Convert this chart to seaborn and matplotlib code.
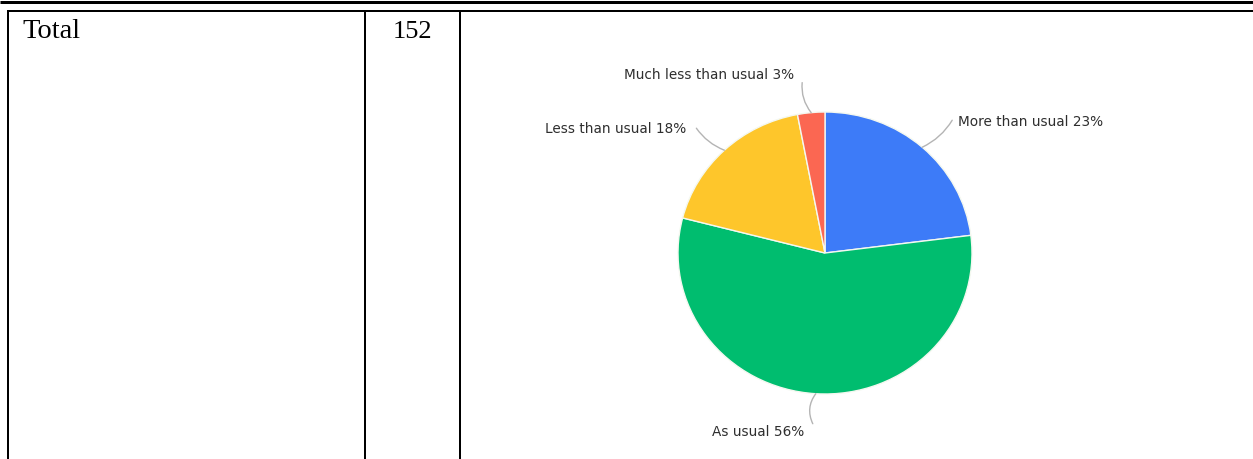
import numpy as np
import matplotlib
matplotlib.use("Agg")
import matplotlib.pyplot as plt
import seaborn as sns

# ---- data ----
categories = ["More than usual", "As usual", "Less than usual", "Much less than usual"]
percentages = [23, 56, 18, 3]
row_label = "Total"
row_count = "152"
slice_colors = ["#3D7BF8", "#00BD6F", "#FEC62B", "#FB6752"]

sns.set_theme(style="white")
plt.rcParams["font.family"] = ["DejaVu Sans"]

W, H = 1253, 459
fig = plt.figure(figsize=(W / 100, H / 100), dpi=100)
fig.patch.set_facecolor("white")

# ---- table frame (pixel coordinates axes) ----
tab = fig.add_axes([0, 0, 1, 1])
tab.set_xlim(0, W)
tab.set_ylim(H, 0)
tab.axis("off")
lw2 = 2 * 72 / 100
tab.plot([0, W], [1.5, 1.5], color="black", lw=3 * 72 / 100, solid_capstyle="butt")
tab.plot([7, W], [10.6, 10.6], color="black", lw=lw2, solid_capstyle="butt")
for xv in (8, 365, 460):
    tab.plot([xv, xv], [10, H], color="black", lw=lw2, solid_capstyle="butt")
tab.text(22, 38, row_label, family="Liberation Serif", fontsize=20.5,
         ha="left", va="baseline", color="black")
tab.text(432, 38, row_count, family="Liberation Serif", fontsize=19,
         ha="right", va="baseline", color="black")

# ---- pie (slightly wider than tall, as in the reference) ----
cx, cy, RX, RY = 825, 253, 147, 141
ax = fig.add_axes([0, 0, 1, 1])
ax.patch.set_alpha(0)
wedges, _ = ax.pie(percentages, colors=sns.color_palette(slice_colors),
                   startangle=90, counterclock=False, radius=1.0,
                   wedgeprops=dict(edgecolor="#F4F8F0", linewidth=1.0))
ax.set_aspect("auto")
ax.set_xlim(-cx / RX, (W - cx) / RX)
ax.set_ylim((cy - H) / RY, cy / RY)
ax.axis("off")

# label layout (pixel offsets from the wedge edge point), and alignment
label_layout = {
    "More than usual": dict(end=(30, -27), text=(36, -25), ha="left", rad=-0.15),
    "As usual": dict(end=(-3, 30), text=(-12, 38), ha="right", rad=-0.3),
    "Less than usual": dict(end=(-28, -22), text=(-38, -21), ha="right", rad=0.15),
    "Much less than usual": dict(end=(-9, -30), text=(-17, -38), ha="right", rad=0.2),
}

for w, cat, pct in zip(wedges, categories, percentages):
    ang = np.deg2rad((w.theta1 + w.theta2) / 2)
    ex, ey = np.cos(ang), np.sin(ang)
    lay = label_layout[cat]
    dx, dy = lay["end"]
    tx, ty = lay["text"]
    end = (ex + dx / RX, ey - dy / RY)
    ax.annotate("", xy=(ex, ey), xytext=end,
                arrowprops=dict(arrowstyle="-", color="#B4B4B4", lw=1.0,
                                connectionstyle=f"arc3,rad={lay['rad']}",
                                shrinkA=0, shrinkB=0))
    ax.text(ex + tx / RX, ey - ty / RY, f"{cat} {pct}%", fontsize=9.8,
            ha=lay["ha"], va="center", color="#2E2E2E")

fig.savefig("out.png", dpi=100, facecolor="white")
